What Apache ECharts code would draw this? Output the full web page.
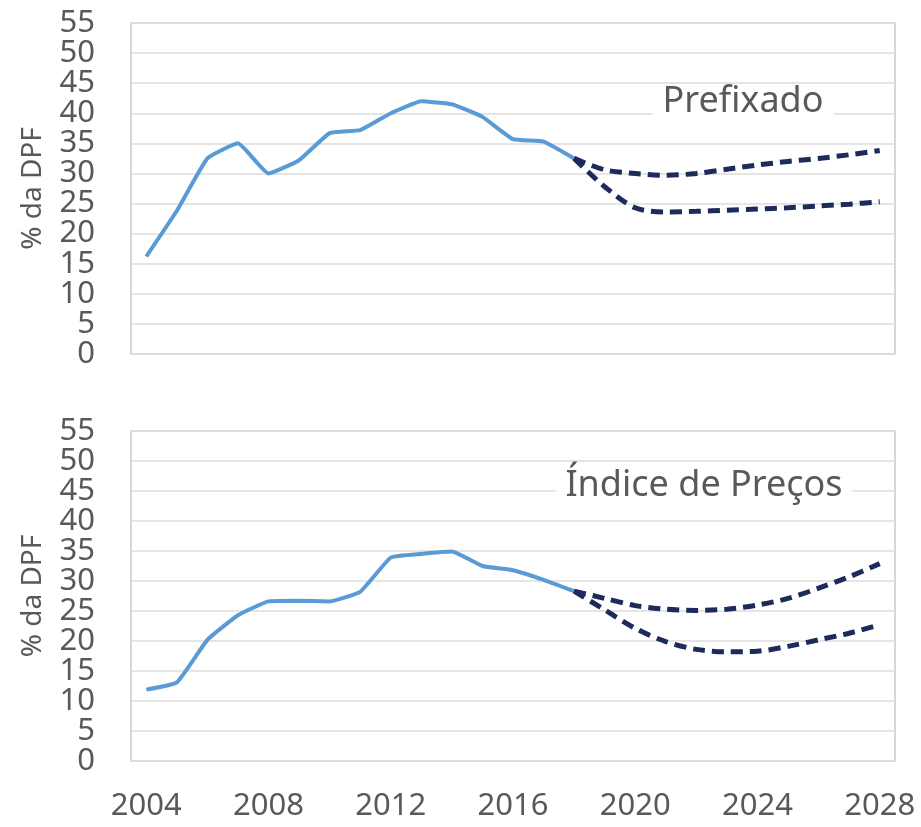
<!DOCTYPE html>
<html>
<head>
<meta charset="utf-8">
<style>
  html, body { margin: 0; padding: 0; background: #fff; }
  #chart { width: 921px; height: 827px; }
</style>
<script src="https://cdn.jsdelivr.net/npm/echarts@6/dist/echarts.min.js"></script>
</head>
<body>
<div id="chart"></div>
<script>
// Years on the shared x axis (category axis, one slot per year).
const years = []
for (let y = 2004; y <= 2028; y++) years.push(String(y))

// Prefixado: history 2004-2018, then two projected paths from 2018.
const prefHist = [16.2, 23.8, 32.5, 35.0, 30.0, 32.2, 36.7, 37.2, 40.0, 42.0, 41.5, 39.4, 35.7, 35.3, 32.5]
const prefUpper = [32.5, 30.6, 30.0, 29.7, 30.0, 30.7, 31.4, 32.0, 32.5, 33.1, 33.8]
const prefLower = [32.5, 27.8, 24.3, 23.6, 23.7, 23.9, 24.1, 24.3, 24.6, 24.9, 25.3]

// Índice de Preços: same layout.
const ipcaHist = [11.9, 13.1, 20.2, 24.3, 26.6, 26.7, 26.6, 28.2, 33.9, 34.5, 34.9, 32.5, 31.8, 30.2, 28.3]
const ipcaUpper = [28.3, 27.1, 25.9, 25.3, 25.1, 25.3, 26.0, 27.1, 28.8, 30.7, 32.9]
const ipcaLower = [28.3, 25.2, 22.1, 19.9, 18.6, 18.2, 18.3, 19.1, 20.2, 21.3, 22.7]

const yTicks = [0, 55, 5] // min, max, interval

const BLUE = "#5B9BD5"
const NAVY = "#1C2A5C"
const GREY_TEXT = "#595959"
const GRID_LINE = "#dcdcdc"
const BORDER = "#c6cad4"
const FONT = "Noto Sans"

// Pad a series so it lines up with the year axis.
const histData = (vals) => vals.concat(Array(years.length - vals.length).fill(null))
const projData = (vals) => Array(years.length - vals.length).fill(null).concat(vals)

const labelStyle = {color: GREY_TEXT, fontSize: 31, fontFamily: FONT, margin: 36}

// The tick labels sit as tight as in the original, so ECharts drops the
// neighbours of a forced min/max label. Main axis carries 5..50, a twin
// axis on the same side carries only 0 and 55.
const yAxisMain = (gridIndex) => ({
  gridIndex,
  type: "value",
  min: yTicks[0],
  max: yTicks[1],
  interval: yTicks[2],
  name: "% da DPF",
  nameLocation: "middle",
  nameGap: 84,
  nameTextStyle: {color: GREY_TEXT, fontSize: 28, fontFamily: FONT},
  axisLine: {show: false},
  axisTick: {show: false},
  axisLabel: {...labelStyle, showMinLabel: false, showMaxLabel: false},
  splitLine: {lineStyle: {color: GRID_LINE, width: 1.5}},
})

const yAxisEnds = (gridIndex) => ({
  gridIndex,
  type: "value",
  position: "left",
  min: yTicks[0],
  max: yTicks[1],
  interval: yTicks[1] - yTicks[0],
  axisLine: {show: false},
  axisTick: {show: false},
  axisLabel: {...labelStyle, showMinLabel: true, showMaxLabel: true},
  splitLine: {show: false},
})

const xAxis = (gridIndex, showLabels) => ({
  gridIndex,
  type: "category",
  data: years,
  boundaryGap: true,
  axisLine: {show: false},
  axisTick: {show: false},
  axisLabel: {
    show: showLabels,
    interval: 3,
    color: GREY_TEXT,
    fontSize: 31,
    fontFamily: FONT,
    margin: 30,
  },
  splitLine: {show: false},
})

const solid = (xIdx, yIdx, vals) => ({
  type: "line",
  xAxisIndex: xIdx,
  yAxisIndex: yIdx,
  data: histData(vals),
  smooth: 0.12,
  showSymbol: false,
  lineStyle: {color: BLUE, width: 4},
  z: 2,
})

const dashed = (xIdx, yIdx, vals) => ({
  type: "line",
  xAxisIndex: xIdx,
  yAxisIndex: yIdx,
  data: projData(vals),
  smooth: 0.3,
  showSymbol: false,
  lineStyle: {color: NAVY, width: 5, type: [12, 7]},
  z: 3,
})

const panelTitle = (text, left, top) => ({
  text,
  left,
  top,
  textAlign: "center",
  backgroundColor: "#fff",
  padding: [0, 10],
  textStyle: {color: GREY_TEXT, fontSize: 36, fontWeight: "normal", fontFamily: FONT},
})

const chart = echarts.init(document.getElementById("chart"))
chart.setOption({
  animation: false,
  backgroundColor: "#fff",
  title: [panelTitle("Prefixado", 733, 84), panelTitle("Índice de Preços", 694, 468)],
  grid: [
    {left: 131, right: 26, top: 23, height: 331, show: true, borderColor: BORDER, borderWidth: 1.5},
    {left: 131, right: 26, top: 431, height: 330, show: true, borderColor: BORDER, borderWidth: 1.5},
  ],
  xAxis: [xAxis(0, false), xAxis(1, true)],
  yAxis: [yAxisMain(0), yAxisEnds(0), yAxisMain(1), yAxisEnds(1)],
  series: [
    solid(0, 0, prefHist),
    dashed(0, 0, prefUpper),
    dashed(0, 0, prefLower),
    solid(1, 2, ipcaHist),
    dashed(1, 2, ipcaUpper),
    dashed(1, 2, ipcaLower),
  ],
})
</script>
</body>
</html>
